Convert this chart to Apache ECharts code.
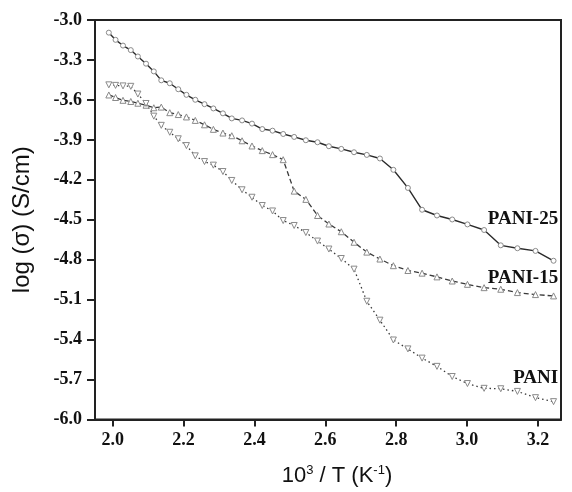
<!DOCTYPE html>
<html>
<head>
<meta charset="utf-8">
<script src="https://cdn.jsdelivr.net/npm/echarts@6/dist/echarts.min.js"></script>
<style>
html,body{margin:0;padding:0;background:#fff;}
#chart{width:572px;height:492px;}
</style>
</head>
<body>
<div id="chart"></div>
<script>
// 10^3 / T values (K^-1), shared by all three samples
const invT = [1.989, 2.008, 2.029, 2.051, 2.071, 2.094, 2.116, 2.137, 2.161, 2.185,
  2.208, 2.233, 2.259, 2.284, 2.311, 2.336, 2.365, 2.393, 2.422, 2.451,
  2.481, 2.512, 2.545, 2.578, 2.610, 2.645, 2.681, 2.717, 2.754, 2.792,
  2.833, 2.873, 2.915, 2.958, 3.001, 3.048, 3.095, 3.142, 3.193, 3.244];

const pani25 = [-3.095, -3.149, -3.192, -3.226, -3.274, -3.328, -3.386, -3.453, -3.475, -3.520,
  -3.562, -3.599, -3.632, -3.664, -3.701, -3.739, -3.754, -3.778, -3.819, -3.831,
  -3.856, -3.878, -3.903, -3.918, -3.948, -3.968, -3.993, -4.013, -4.040, -4.125,
  -4.261, -4.425, -4.468, -4.498, -4.535, -4.577, -4.692, -4.714, -4.734, -4.808];

const pani15 = [-3.563, -3.582, -3.603, -3.612, -3.625, -3.640, -3.659, -3.654, -3.696, -3.710,
  -3.728, -3.754, -3.787, -3.821, -3.849, -3.869, -3.907, -3.946, -3.981, -4.011,
  -4.049, -4.285, -4.347, -4.468, -4.532, -4.590, -4.669, -4.743, -4.795, -4.845,
  -4.881, -4.901, -4.929, -4.960, -4.985, -5.010, -5.022, -5.047, -5.062, -5.072];

const pani = [-3.487, -3.491, -3.495, -3.498, -3.556, -3.627, -3.722, -3.791, -3.843, -3.892,
  -3.943, -4.020, -4.063, -4.090, -4.138, -4.205, -4.275, -4.331, -4.393, -4.434,
  -4.506, -4.543, -4.596, -4.660, -4.720, -4.791, -4.871, -5.112, -5.254, -5.403,
  -5.470, -5.539, -5.601, -5.677, -5.730, -5.766, -5.769, -5.789, -5.836, -5.866];

const xTicks = [2.0, 2.2, 2.4, 2.6, 2.8, 3.0, 3.2];
const yTicks = [-6.0, -5.7, -5.4, -5.1, -4.8, -4.5, -4.2, -3.9, -3.6, -3.3, -3.0];

const seriesNames = ['PANI-25', 'PANI-15', 'PANI'];
// label anchor points (right end, vertical middle) in data units
const labelAnchors = [[3.257, -4.493], [3.257, -4.94], [3.257, -5.687]];

const pair = (ys) => invT.map((x, i) => [x, ys[i]]);

const tickFont = {fontFamily: 'Liberation Serif', fontWeight: 'bold', fontSize: 18, color: '#111'};
const axisLineStyle = {color: '#222', width: 2};

function mkLabel(name, anchor) {
  return {
    silent: true,
    symbol: 'circle',
    symbolSize: 0,
    data: [{coord: anchor}],
    label: {
      show: true, position: 'left', distance: 0, formatter: name,
      fontFamily: 'Liberation Serif', fontWeight: 'bold', fontSize: 19, color: '#111'
    }
  };
}

const chart = echarts.init(document.getElementById('chart'), null, {renderer: 'canvas'});
chart.setOption({
  animation: false,
  backgroundColor: '#fff',
  grid: {left: 95, top: 20, right: 11, bottom: 70, show: true, borderColor: '#222', borderWidth: 2, backgroundColor: 'transparent'},
  xAxis: {
    type: 'value', min: 1.95, max: 3.265,
    name: '{a|10}{s|3}{a| / T (K}{s|-1}{a|)}',
    nameLocation: 'middle', nameGap: 44,
    nameTextStyle: {
      padding: [0, 0, 0, 18],
      rich: {
        a: {fontFamily: 'Liberation Sans', fontSize: 22, color: '#111'},
        s: {fontFamily: 'Liberation Sans', fontSize: 13, color: '#111', padding: [0, 0, 12, 0]}
      }
    },
    axisLine: {show: true, lineStyle: axisLineStyle},
    axisTick: {show: true, inside: false, length: 7, lineStyle: axisLineStyle, customValues: xTicks},
    axisLabel: Object.assign({margin: 12, customValues: xTicks, formatter: v => v.toFixed(1)}, tickFont),
    splitLine: {show: false}
  },
  yAxis: {
    type: 'value', min: -6, max: -3,
    name: 'log (σ) (S/cm)',
    nameLocation: 'middle', nameGap: 61,
    nameTextStyle: {fontFamily: 'Liberation Sans', fontSize: 24, color: '#111'},
    axisLine: {show: true, lineStyle: axisLineStyle},
    axisTick: {show: true, inside: false, length: 8, lineStyle: axisLineStyle, customValues: yTicks},
    axisLabel: Object.assign({margin: 13, customValues: yTicks, formatter: v => v.toFixed(1)}, tickFont),
    splitLine: {show: false}
  },
  series: [
    {
      name: seriesNames[0], type: 'line', data: pair(pani25),
      symbol: 'circle', symbolSize: 5, showAllSymbol: true,
      lineStyle: {color: '#2a2a2a', width: 1.4, type: 'solid'},
      itemStyle: {color: '#fff', borderColor: '#8a8a8a', borderWidth: 1},
      markPoint: mkLabel(seriesNames[0], labelAnchors[0])
    },
    {
      name: seriesNames[1], type: 'line', data: pair(pani15),
      symbol: 'triangle', symbolSize: 6, showAllSymbol: true,
      lineStyle: {color: '#3a3a3a', width: 1.3, type: [5, 3]},
      itemStyle: {color: '#fff', borderColor: '#8a8a8a', borderWidth: 1},
      markPoint: mkLabel(seriesNames[1], labelAnchors[1])
    },
    {
      name: seriesNames[2], type: 'line', data: pair(pani),
      symbol: 'triangle', symbolRotate: 180, symbolSize: 6, showAllSymbol: true,
      lineStyle: {color: '#3a3a3a', width: 1.3, type: [1.5, 3]},
      itemStyle: {color: '#fff', borderColor: '#8a8a8a', borderWidth: 1},
      markPoint: mkLabel(seriesNames[2], labelAnchors[2])
    }
  ]
});
</script>
</body>
</html>
